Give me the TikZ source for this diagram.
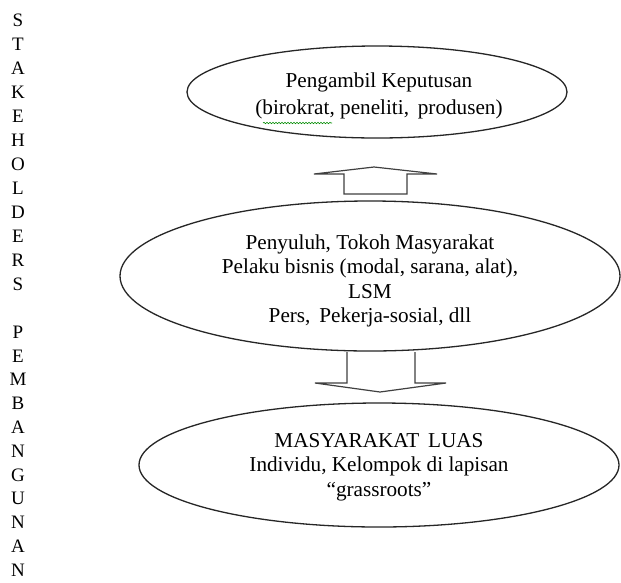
\documentclass[tikz,border=0pt]{standalone}
\usepackage{fontspec}
\setmainfont{Liberation Serif}
\usetikzlibrary{shapes.geometric,decorations.pathmorphing}
\begin{document}
\begin{tikzpicture}[x=1pt,y=-1pt,
  oval/.style={draw=black!85, line width=1.3pt, ellipse, inner sep=0pt},
  txt/.style={align=center, font=\fontsize{21.2}{24.5}\selectfont, inner sep=0pt},
  blockarrow/.style={draw=black!75, line width=1.2pt, fill=white, line join=miter},
  letter/.style={font=\fontsize{19}{24}\selectfont, inner sep=0pt}]
\useasboundingbox (0,0) rectangle (621,582);
\fill[white] (0,0) rectangle (621,582);

% vertical letters
\foreach \l [count=\i] in {S,T,A,K,E,H,O,L,D,E,R,S}
  \node[letter] (s\i) at (18, 20+24*\i-24) {\l};
\foreach \l [count=\i] in {P,E,M,B,A,N,G,U,N,A,N}
  \node[letter] (p\i) at (18, 332+23.8*\i-23.8) {\l};

% ellipses
\node[oval, minimum width=380pt, minimum height=92pt] (top) at (377,92) {};
\node[oval, minimum width=500pt, minimum height=150pt] (mid) at (370,276) {};
\node[oval, minimum width=480pt, minimum height=124pt] (bot) at (379,465) {};

% texts
\node[txt] (toptxt) at (379,96) {Pengambil Keputusan\\[2pt](birokrat, peneliti, \,produsen)};
\node[txt] (midtxt) at (370,281) {Penyuluh, Tokoh Masyarakat\\Pelaku bisnis (modal, sarana, alat),\\LSM\\Pers, \,Pekerja-sosial, dll};
\node[txt] (bottxt) at (379,467) {MASYARAKAT \,LUAS\\Individu, Kelompok di lapisan\\“grassroots”};

% spell-check squiggle
\draw[green!55!black, line width=0.6pt, decorate, decoration={snake, amplitude=0.7pt, segment length=3pt}] (263,123) -- (332,123);

% block arrows
\draw[blockarrow] (344,194) -- (344,174) -- (314,174) -- (374,167) -- (437,174) -- (407,174) -- (407,194) -- cycle;
\draw[blockarrow] (347,352) -- (347,383) -- (315,383) -- (380,392) -- (446,383) -- (415,383) -- (415,352);
\end{tikzpicture}
\end{document}
